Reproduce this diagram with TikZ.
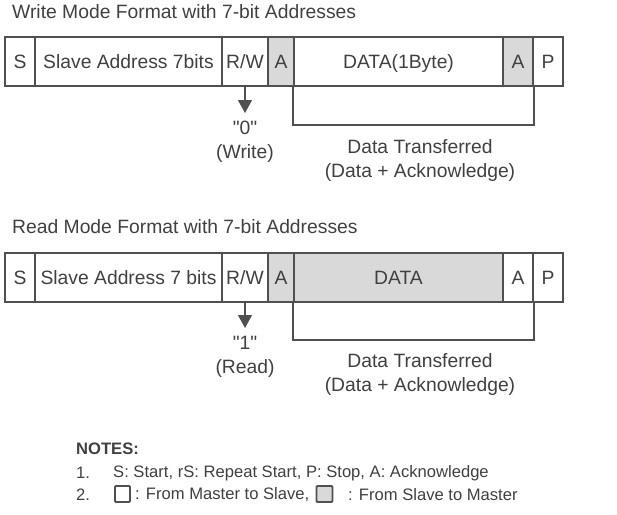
\documentclass[tikz,border=0pt]{standalone}
\usepackage{fontspec}
\setmainfont{Liberation Sans}
\newfontfamily\plainfont{Liberation Sans}
\usetikzlibrary{arrows.meta}
\definecolor{txt}{HTML}{404040}
\definecolor{ln}{HTML}{505050}
\definecolor{shade}{HTML}{D9D9D9}
\begin{document}
\begin{tikzpicture}[x=1pt,y=-1pt,
  every node/.style={text=txt},
  bigfont/.style={font=\fontsize{19.3}{24}\selectfont},
  notefont/.style={font=\fontsize{16.6}{20}\selectfont},
  cell/.style={draw=ln, line width=1.8pt, minimum height=49pt, inner sep=0pt, bigfont, text height=13.8pt, text depth=0pt},
  gcell/.style={cell, fill=shade},
  txtnode/.style={inner sep=0pt, bigfont},
  bracket/.style={draw=ln, line width=1.6pt},
  rwarrow/.style={draw=ln, line width=1.2pt, -{Triangle[width=14pt,length=13pt]}, shorten >=8pt},
  lbl/.style={inner sep=0pt, font=\plainfont\fontsize{19.3}{24}\selectfont, align=center}
]
\useasboundingbox (0,0) rectangle (617,514);

% ---------- Write mode ----------
\node[txtnode, anchor=west] (t1) at (12,12) {Write Mode Format with 7-bit Addresses};
\node[cell, minimum width=30pt]  (ws)  at (20,61.5)    {S};
\node[cell, minimum width=187pt] (wsa) at (128.5,61.5) {Slave Address 7bits};
\node[cell, minimum width=46pt]  (wrw) at (245,61.5)   {R/W};
\node[gcell, minimum width=26pt] (wa1) at (281,61.5)   {A};
\node[cell, minimum width=209pt] (wd)  at (398.5,61.5) {DATA(1Byte)};
\node[gcell, minimum width=30pt] (wa2) at (518,61.5)   {A};
\node[cell, minimum width=30pt]  (wp)  at (548,61.5)   {P};

\node[lbl, anchor=north] (w0) at (245,121) {"0"\\(Write)};
\draw[rwarrow] (wrw.south) -- (w0.north);
\coordinate (wb) at (0,125);
\draw[bracket] (wd.south west) |- (wb -| wa2.south east) -- (wa2.south east);
\node[lbl] (wdt) at (420,160.5) {Data Transferred\\(Data + Acknowledge)};

% ---------- Read mode ----------
\node[txtnode, anchor=west] (t2) at (12,227) {Read Mode Format with 7-bit Addresses};
\node[cell, minimum width=30pt]  (rs)  at (20,277.5)    {S};
\node[cell, minimum width=187pt] (rsa) at (128.5,277.5) {Slave Address 7 bits};
\node[cell, minimum width=46pt]  (rrw) at (245,277.5)   {R/W};
\node[gcell, minimum width=26pt] (ra1) at (281,277.5)   {A};
\node[gcell, minimum width=209pt] (rd) at (398.5,277.5) {DATA};
\node[cell, minimum width=30pt]  (ra2) at (518,277.5)   {A};
\node[cell, minimum width=30pt]  (rp)  at (548,277.5)   {P};

\node[lbl, anchor=north] (r1) at (245,336) {"1"\\(Read)};
\draw[rwarrow] (rrw.south) -- (r1.north);
\coordinate (rb) at (0,340);
\draw[bracket] (rd.south west) |- (rb -| ra2.south east) -- (ra2.south east);
\node[lbl] (rdt) at (420,374.5) {Data Transferred\\(Data + Acknowledge)};

% ---------- Notes ----------
\node[inner sep=0pt, anchor=west, font=\fontsize{16.6}{20}\selectfont\bfseries] (nt) at (76,449) {NOTES:};
\node[inner sep=0pt, anchor=west, notefont] (n1) at (76,473) {1.};
\node[inner sep=0pt, anchor=west, notefont] (n1t) at (113,473) {S: Start, rS: Repeat Start, P: Stop, A: Acknowledge};
\node[inner sep=0pt, anchor=west, notefont] (n2) at (76,495) {2.};
\node[draw=ln, line width=1.8pt, rounded corners=1pt, minimum width=15pt, minimum height=16pt, inner sep=0pt] (wbx) at (122.5,494) {};
\node[inner sep=0pt, anchor=west, notefont] (n2a) at (135,495) {: From Master to Slave,};
\node[draw=ln, fill=shade, line width=1.8pt, rounded corners=1pt, minimum width=16pt, minimum height=16pt, inner sep=0pt] (gbx) at (324.5,494) {};
\node[inner sep=0pt, anchor=west, notefont] (n2b) at (348,495) {: From Slave to Master};
\end{tikzpicture}
\end{document}
